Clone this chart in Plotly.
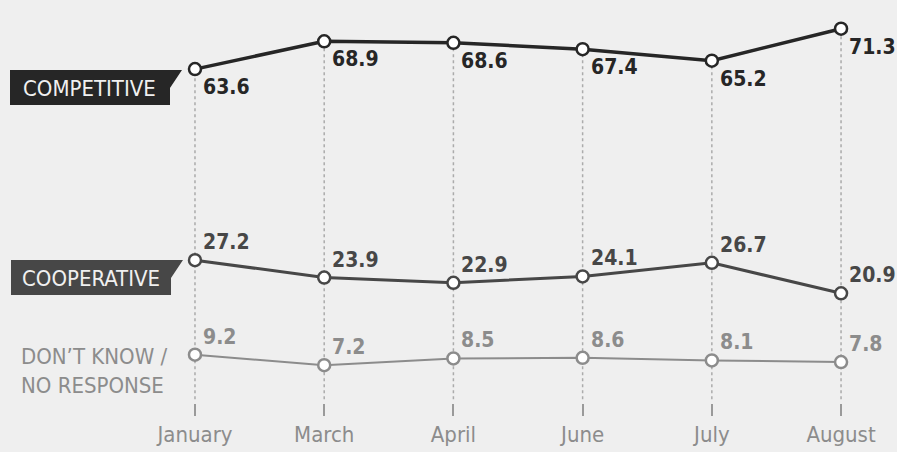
import plotly.graph_objects as go

months = ["January", "March", "April", "June", "July", "August"]
competitive = [63.6, 68.9, 68.6, 67.4, 65.2, 71.3]
cooperative = [27.2, 23.9, 22.9, 24.1, 26.7, 20.9]
dont_know = [9.2, 7.2, 8.5, 8.6, 8.1, 7.8]

W, H = 897, 452
ML, MR, MT, MB = 0, 0, 4, 49
FONT = "DejaVu Sans Condensed, Liberation Sans Narrow, Roboto, sans-serif"
BG = "#efefef"

def px2x(px):
    return (px - ML) / (W - ML - MR)

def py2y(py):
    return (H - MB - py) / (H - MT - MB)

xs = list(range(len(months)))

series = [
    ("COMPETITIVE", competitive, "#262626", 3.5, "#262626", 18),
    ("COOPERATIVE", cooperative, "#474747", 3.0, "#474747", -18),
    ("DON'T KNOW / NO RESPONSE", dont_know, "#8c8c8c", 2.0, "#8c8c8c", -18),
]

fig = go.Figure()

shapes = []
for i, v in enumerate(competitive):
    shapes.append(dict(type="line", xref="x", yref="y", x0=i, x1=i, y0=0.7, y1=v,
                       line=dict(color="#ababab", width=1.5, dash="dot"), layer="below"))

annotations = []
for name, vals, col, lw, tcol, yoff in series:
    fig.add_trace(go.Scatter(
        x=xs, y=vals, mode="lines+markers", name=name,
        line=dict(color=col, width=lw),
        marker=dict(size=12, color="white", line=dict(color=col, width=2.5)),
        showlegend=False, cliponaxis=False))
    for i, v in enumerate(vals):
        annotations.append(dict(
            x=i, y=v, xref="x", yref="y", text=f"<b>{v:.1f}</b>", showarrow=False,
            xanchor="left", yanchor="middle", xshift=6, yshift=-yoff,
            font=dict(family=FONT, size=21, color=tcol)))

def box_path(x0, x1, xt, y0, y1, ymid):
    pts = [(x0, y0), (xt, y0), (x1, ymid), (x1, y1), (x0, y1)]
    return "M " + " L ".join(f"{px2x(a):.5f},{py2y(b):.5f}" for a, b in pts) + " Z"

shapes.append(dict(type="path", xref="paper", yref="paper",
                   path=box_path(10, 170, 182, 70, 105, 88),
                   fillcolor="#262626", line=dict(width=0)))
shapes.append(dict(type="path", xref="paper", yref="paper",
                   path=box_path(11, 171, 183, 260, 295, 278),
                   fillcolor="#474747", line=dict(width=0)))

annotations.append(dict(x=px2x(89), y=py2y(88), xref="paper", yref="paper",
                        text="COMPETITIVE", showarrow=False, xanchor="center", yanchor="middle",
                        font=dict(family=FONT, size=22, color="#f0f0f0")))
annotations.append(dict(x=px2x(91), y=py2y(278), xref="paper", yref="paper",
                        text="COOPERATIVE", showarrow=False, xanchor="center", yanchor="middle",
                        font=dict(family=FONT, size=22, color="#f0f0f0")))
annotations.append(dict(x=px2x(19), y=py2y(371), xref="paper", yref="paper",
                        text="DON\u2019T KNOW /<br>NO RESPONSE", showarrow=False,
                        xanchor="left", yanchor="middle", align="left",
                        font=dict(family=FONT, size=22, color="#8c8c8c")))

fig.update_layout(
    width=W, height=H,
    margin=dict(l=ML, r=MR, t=MT, b=MB),
    paper_bgcolor=BG, plot_bgcolor=BG,
    shapes=shapes, annotations=annotations,
    xaxis=dict(range=[-1.509, 5.433], tickmode="array", tickvals=xs, ticktext=months,
               showgrid=False, zeroline=False, showline=False,
               ticks="outside", ticklen=12, tickwidth=1.5, tickcolor="#9a9a9a",
               tickfont=dict(family=FONT, size=22, color="#8c8c8c")),
    yaxis=dict(range=[0, 76], visible=False, showgrid=False, zeroline=False),
)

fig.write_html("out.html", config={"displayModeBar": False},
               post_script="document.body.style.margin='0';document.body.style.overflow='hidden';")
